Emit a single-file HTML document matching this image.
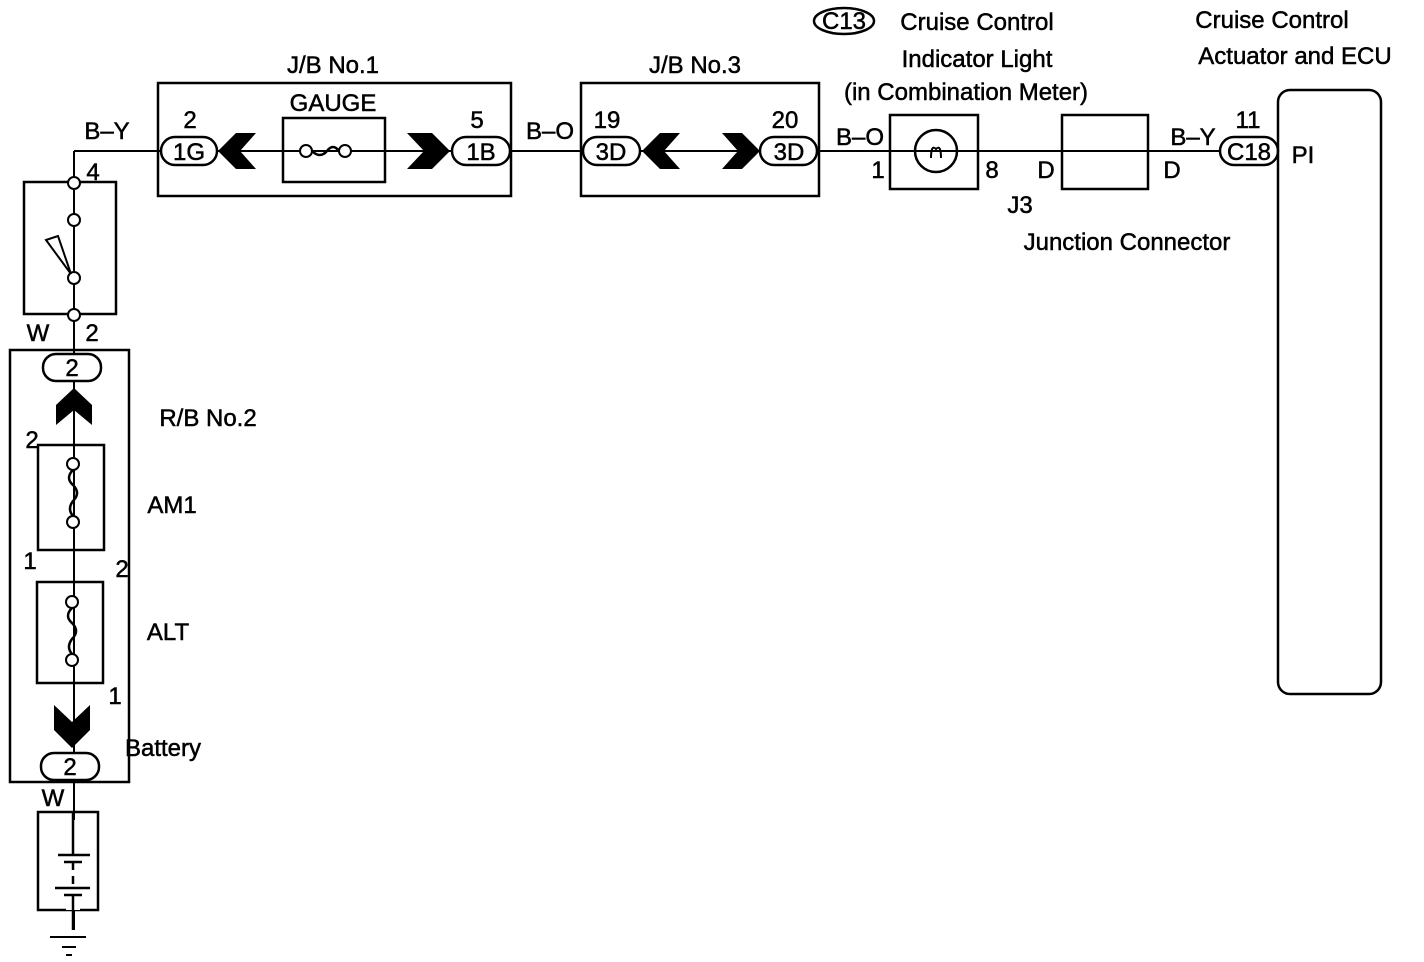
<!DOCTYPE html>
<html><head><meta charset="utf-8"><style>
html,body{margin:0;padding:0;background:#fff}
svg{display:block}
text{font-family:"Liberation Sans",sans-serif;font-size:24px;fill:#000;stroke:#000;stroke-width:0.5}
</style></head><body>
<svg width="1424" height="962" viewBox="0 0 1424 962" xmlns="http://www.w3.org/2000/svg">
<g fill="none" stroke="#000" stroke-width="2">
<line x1="74" y1="151" x2="1279" y2="151"/>
<line x1="74" y1="151" x2="74" y2="930"/>
<rect x="158" y="83" width="353" height="113" stroke-width="2.5"/>
<rect x="283" y="118" width="102" height="64" stroke-width="2.5"/>
<rect x="161" y="137" width="56" height="28" rx="14" fill="#fff" stroke-width="2.5"/>
<rect x="452" y="137" width="58" height="28" rx="14" fill="#fff" stroke-width="2.5"/>
<rect x="581" y="83" width="238" height="113" stroke-width="2.5"/>
<rect x="583" y="137" width="57" height="28" rx="14" fill="#fff" stroke-width="2.5"/>
<rect x="760" y="137" width="57" height="28" rx="14" fill="#fff" stroke-width="2.5"/>
<rect x="890" y="115" width="88" height="74" stroke-width="2.5"/>
<circle cx="936" cy="151" r="21" stroke-width="2.5"/>
<path d="M931 158 q0 -14 5 -9 q5 -5 5 9"/>
<rect x="1062" y="115" width="86" height="74" stroke-width="2.5"/>
<rect x="1220" y="137" width="58" height="28" rx="14" fill="#fff" stroke-width="2.5"/>
<rect x="1278" y="90" width="103" height="604" rx="12" stroke-width="2.5"/>
<ellipse cx="844" cy="21" rx="30" ry="13" stroke-width="2.5"/>
<rect x="24" y="182" width="92" height="132" stroke-width="2.5"/>
<rect x="10" y="350" width="119" height="432" stroke-width="2.5"/>
<rect x="43" y="354" width="58" height="27" rx="13" fill="#fff" stroke-width="2.5"/>
<rect x="38" y="445" width="66" height="105" stroke-width="2.5"/>
<rect x="37" y="582" width="66" height="101" stroke-width="2.5"/>
<rect x="41" y="753" width="58" height="27" rx="13" fill="#fff" stroke-width="2.5"/>
<rect x="38" y="812" width="60" height="98" stroke-width="2.5"/>
</g>
<g fill="#fff" stroke="#000" stroke-width="2">
<circle cx="306" cy="151" r="6"/><circle cx="345" cy="151" r="6"/>
<circle cx="74" cy="183" r="6"/><circle cx="74" cy="220" r="6"/>
<circle cx="74" cy="278" r="6"/><circle cx="74" cy="315" r="6"/>
<circle cx="73" cy="464" r="6"/><circle cx="73" cy="522" r="6"/>
<circle cx="72" cy="602" r="6"/><circle cx="72" cy="660" r="6"/>
</g>
<g fill="none" stroke="#000" stroke-width="2.5">
<path d="M312 151 q8 8 15 0 q6 -8 12 0"/>
<path d="M73 470 q-8 8 0 15 q8 8 0 16 q-6 8 0 15"/>
<path d="M72 608 q-8 8 0 15 q8 8 0 16 q-6 8 0 15"/>
<polygon points="46,240 58,236 71,274" stroke-width="2"/>
<line x1="50" y1="937" x2="86" y2="937" stroke-width="2"/>
<line x1="62" y1="947" x2="76" y2="947" stroke-width="2"/>
<line x1="66" y1="955" x2="72" y2="955" stroke-width="2"/>
</g>
<rect x="66" y="820" width="14" height="90" fill="#fff"/>
<g stroke="#000" stroke-width="2.5"><line x1="73" y1="812" x2="73" y2="855"/><line x1="73" y1="862" x2="73" y2="870"/><line x1="73" y1="876" x2="73" y2="884"/><line x1="73" y1="895" x2="73" y2="930"/>
<line x1="58" y1="855" x2="90" y2="855"/><line x1="64" y1="862" x2="82" y2="862"/><line x1="55" y1="888" x2="90" y2="888"/><line x1="64" y1="895" x2="82" y2="895"/></g>
<g fill="#000">
<polygon points="218,151 236,133 256,133 240,151 256,169 236,169"/>
<polygon points="450,151 432,133 407,133 424,151 407,169 432,169"/>
<polygon points="642,151 660,133 680,133 664,151 680,169 660,169"/>
<polygon points="760,151 742,133 722,133 738,151 722,169 742,169"/>
<polygon points="74,388 92,405 92,425 74,410 56,425 56,405"/>
<polygon points="72,748 90,730 90,705 72,722 54,705 54,730"/>
</g>
<text x="333" y="73" text-anchor="middle">J/B No.1</text>
<text x="333" y="111" text-anchor="middle">GAUGE</text>
<text x="190" y="128" text-anchor="middle">2</text>
<text x="189" y="160" text-anchor="middle">1G</text>
<text x="477" y="128" text-anchor="middle">5</text>
<text x="481" y="160" text-anchor="middle">1B</text>
<text x="107" y="139" text-anchor="middle">B–Y</text>
<text x="93" y="180" text-anchor="middle">4</text>
<text x="550" y="139" text-anchor="middle">B–O</text>
<text x="695" y="73" text-anchor="middle">J/B No.3</text>
<text x="607" y="128" text-anchor="middle">19</text>
<text x="611" y="160" text-anchor="middle">3D</text>
<text x="785" y="128" text-anchor="middle">20</text>
<text x="789" y="160" text-anchor="middle">3D</text>
<text x="860" y="145" text-anchor="middle">B–O</text>
<text x="878" y="178" text-anchor="middle">1</text>
<text x="992" y="178" text-anchor="middle">8</text>
<text x="1046" y="178" text-anchor="middle">D</text>
<text x="1172" y="178" text-anchor="middle">D</text>
<text x="1020" y="213" text-anchor="middle">J3</text>
<text x="1127" y="250" text-anchor="middle">Junction Connector</text>
<text x="844" y="29" text-anchor="middle" font-size="22">C13</text>
<text x="977" y="30" text-anchor="middle">Cruise Control</text>
<text x="977" y="67" text-anchor="middle">Indicator Light</text>
<text x="966" y="100" text-anchor="middle">(in Combination Meter)</text>
<text x="1272" y="28" text-anchor="middle">Cruise Control</text>
<text x="1295" y="64" text-anchor="middle">Actuator and ECU</text>
<text x="1193" y="145" text-anchor="middle">B–Y</text>
<text x="1248" y="128" text-anchor="middle">11</text>
<text x="1249" y="160" text-anchor="middle">C18</text>
<text x="1303" y="163" text-anchor="middle">PI</text>
<text x="38" y="341" text-anchor="middle">W</text>
<text x="92" y="341" text-anchor="middle">2</text>
<text x="72" y="376" text-anchor="middle">2</text>
<text x="208" y="426" text-anchor="middle">R/B No.2</text>
<text x="32" y="448" text-anchor="middle">2</text>
<text x="172" y="513" text-anchor="middle">AM1</text>
<text x="30" y="569" text-anchor="middle">1</text>
<text x="122" y="577" text-anchor="middle">2</text>
<text x="168" y="640" text-anchor="middle">ALT</text>
<text x="115" y="704" text-anchor="middle">1</text>
<text x="163" y="756" text-anchor="middle">Battery</text>
<text x="70" y="775" text-anchor="middle">2</text>
<text x="53" y="806" text-anchor="middle">W</text>
</svg>
</body></html>
